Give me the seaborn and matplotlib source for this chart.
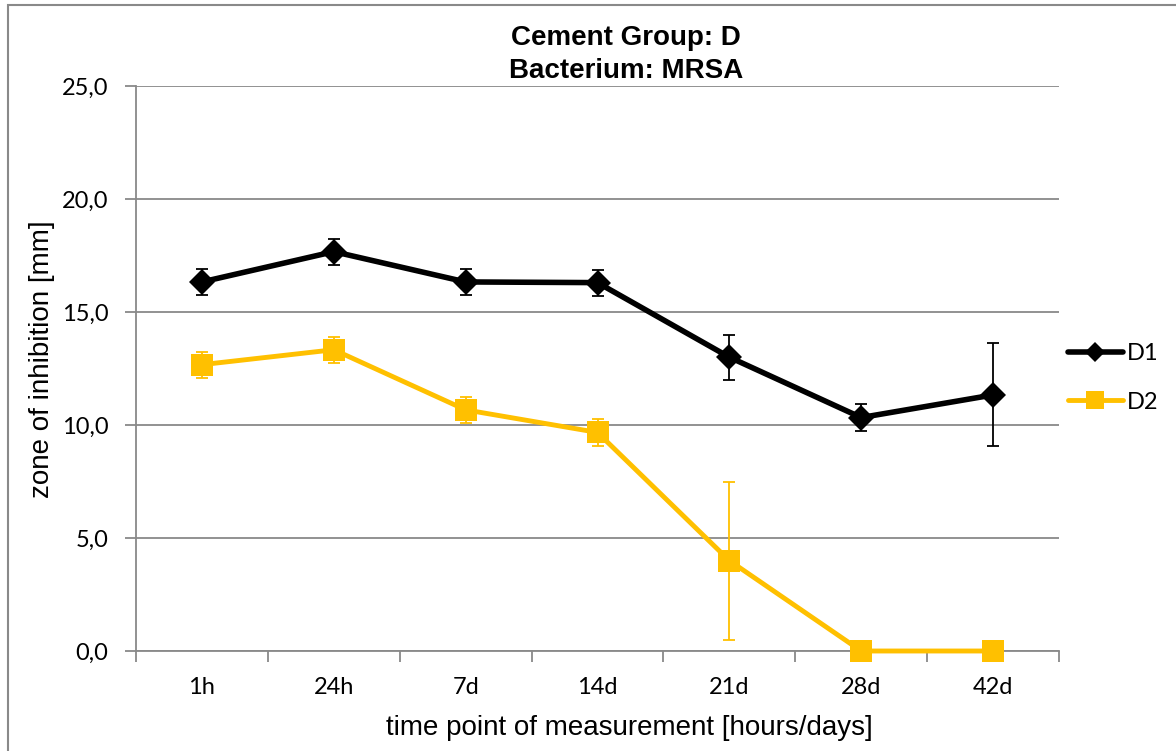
import matplotlib
matplotlib.use("Agg")
import matplotlib.pyplot as plt
import seaborn as sns
import pandas as pd
from matplotlib.lines import Line2D
from matplotlib.patches import Rectangle

# Measurement time points and zone-of-inhibition means / standard deviations (mm)
time_points = ["1h", "24h", "7d", "14d", "21d", "28d", "42d"]
d1_mean = [16.33, 17.67, 16.33, 16.30, 13.00, 10.33, 11.33]
d1_sd = [0.58, 0.58, 0.58, 0.58, 1.00, 0.58, 2.28]
d2_mean = [12.67, 13.33, 10.67, 9.67, 4.00, 0.00, 0.00]
d2_sd = [0.58, 0.58, 0.58, 0.58, 3.50, 0.00, 0.00]
y_ticks = [0, 5, 10, 15, 20, 25]
y_tick_labels = ["0,0", "5,0", "10,0", "15,0", "20,0", "25,0"]

BLACK = "#000000"
GOLD = "#FFC000"
GRID = "#898989"
TICK_FONT = ["Lato", "DejaVu Sans"]
LABEL_FONT = ["Liberation Sans", "DejaVu Sans"]

sns.set_theme(style="white")
plt.rcParams["font.family"] = TICK_FONT
plt.rcParams["text.color"] = "black"
plt.rcParams["xtick.color"] = "black"
plt.rcParams["ytick.color"] = "black"

df = pd.DataFrame({
    "pos": list(range(len(time_points))) * 2,
    "value": d1_mean + d2_mean,
    "sd": d1_sd + d2_sd,
    "series": ["D1"] * len(time_points) + ["D2"] * len(time_points),
})

fig = plt.figure(figsize=(11.76, 7.51), dpi=100)
ax = fig.add_axes([136 / 1176, 1 - 651 / 751, (1059 - 136) / 1176, (651 - 86) / 751])

# Gridlines
ax.set_axisbelow(True)
ax.yaxis.grid(True, color=GRID, linewidth=1.3)
ax.xaxis.grid(False)

ecolors = {"D1": BLACK, "D2": GOLD}

# Error bars first, lines and markers on top
for name, sub in df.groupby("series"):
    mask = sub["sd"] > 0
    ax.errorbar(sub["pos"][mask], sub["value"][mask], yerr=sub["sd"][mask],
                fmt="none", ecolor=ecolors[name], elinewidth=1.3, capsize=4.5,
                capthick=1.3, zorder=2)

sns.lineplot(data=df, x="pos", y="value", hue="series", style="series",
             palette={"D1": BLACK, "D2": GOLD}, markers={"D1": "D", "D2": "s"},
             dashes=False, linewidth=3.6, markersize=13, markeredgewidth=0,
             legend=False, ax=ax, zorder=3)
# per-series marker sizes and line widths
for line in ax.lines:
    c = matplotlib.colors.to_hex(line.get_color()).upper()
    if c == BLACK.upper():
        line.set_markersize(13)
        line.set_linewidth(4.0)
    elif c == GOLD.upper():
        line.set_markersize(15.5)
        line.set_linewidth(3.5)
    line.set_clip_on(False)

ax.set_xlim(-0.5, len(time_points) - 0.5)
ax.set_ylim(0, 25)

# Category boundaries as tick marks, labels centered on categories
ax.set_xticks([i - 0.5 for i in range(len(time_points) + 1)])
ax.set_xticklabels([])
ax.set_xticks(range(len(time_points)), minor=True)
ax.set_xticklabels(time_points, minor=True, fontsize=17, family=TICK_FONT)
ax.tick_params(axis="x", which="major", direction="out", length=8, width=1.3,
               color=GRID, bottom=True)
ax.tick_params(axis="x", which="minor", length=0, pad=19, bottom=True,
               labelcolor="black")

ax.set_yticks(y_ticks)
ax.set_yticklabels(y_tick_labels, fontsize=17, family=TICK_FONT)
ax.tick_params(axis="y", direction="out", length=8, width=1.3, color=GRID,
               pad=12, left=True, labelcolor="black")

for side in ["top", "right"]:
    ax.spines[side].set_visible(False)
for side in ["left", "bottom"]:
    ax.spines[side].set_color(GRID)
    ax.spines[side].set_linewidth(1.3)

ax.set_xlabel("")
ax.set_ylabel("")

fig.text(629 / 1176, 1 - 728 / 751, "time point of measurement [hours/days]",
         ha="center", va="center", fontsize=20, family=LABEL_FONT, color="black")
fig.text(42 / 1176, 1 - 359 / 751, "zone of inhibition [mm]", rotation=90,
         ha="center", va="center", fontsize=20, family=LABEL_FONT, color="black")

fig.text(626 / 1176, 1 - 38 / 751, "Cement Group: D", ha="center", va="center",
         fontsize=20, fontweight="bold", family=LABEL_FONT, color="black")
fig.text(626 / 1176, 1 - 71 / 751, "Bacterium: MRSA", ha="center", va="center",
         fontsize=20, fontweight="bold", family=LABEL_FONT, color="black")

# Legend
handles = [Line2D([], [], color=BLACK, marker="D", ms=10.5, lw=4.0, mew=0),
           Line2D([], [], color=GOLD, marker="s", ms=12.5, lw=3.5, mew=0)]
leg = fig.legend(handles, ["D1", "D2"], loc="center left",
                 bbox_to_anchor=(1047 / 1176, 1 - 378 / 751), frameon=False,
                 prop={"family": TICK_FONT, "size": 17}, handlelength=2.3,
                 handletextpad=0.2, labelspacing=1.15)
for t in leg.get_texts():
    t.set_color("black")

# Chart-area outline
fig.patches.append(Rectangle((8 / 1176, -0.05), 1.2, 1 - 5 / 751 + 0.05,
                             transform=fig.transFigure, fill=False,
                             edgecolor=GRID, linewidth=1.5, zorder=0))

fig.savefig("out.png", dpi=100)
